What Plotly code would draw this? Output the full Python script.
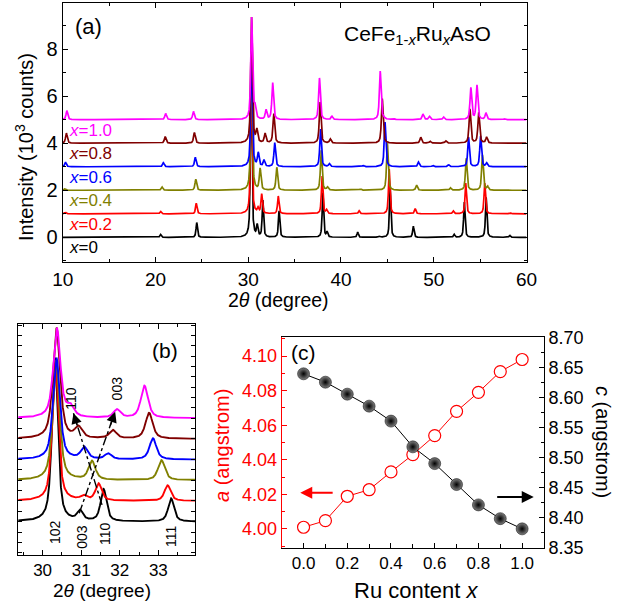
import numpy as np
import plotly.graph_objects as go

# ---------------- XRD patterns of CeFe1-xRuxAsO ----------------
compositions = ["0", "0.2", "0.4", "0.6", "0.8", "1.0"]
stack_offsets = [0, 1, 2, 3, 4, 5]          # vertical shift of each pattern (10^3 counts)
colors = ["#000000", "#ff0000", "#808000", "#0000ff", "#800000", "#ff00ff"]
peak_fwhm = [0.18, 0.19, 0.21, 0.21, 0.22, 0.22]   # degrees

# peak positions (2theta, deg) and heights (10^3 counts) for each composition
pos_x00 = [20.55, 24.45, 30.32, 30.97, 31.58, 33.33, 38.05, 38.5, 41.8, 44.15, 45.3, 47.8, 52.2, 53.3, 55.65, 58.2]
amp_x00 = [0.12, 0.63, 7.9, 0.47, 1.55, 1.12, 1.9, 0.22, 0.22, 0.04, 2.1, 0.47, 0.12, 1.5, 1.7, 0.08]

pos_x02 = [10.3, 20.55, 24.4, 30.33, 31.06, 31.45, 33.24, 37.97, 38.45, 41.95, 45.2, 48.0, 52.1, 53.45, 55.5, 58.2]
amp_x02 = [0.06, 0.1, 0.45, 6.6, 0.2, 0.82, 0.75, 1.6, 0.15, 0.13, 1.9, 0.22, 0.12, 1.3, 1.3, 0.05]

pos_x04 = [10.25, 20.7, 24.35, 30.35, 31.28, 33.08, 37.87, 38.55, 42.1, 45.0, 48.15, 51.8, 53.5, 55.25, 55.8]
amp_x04 = [0.06, 0.14, 0.47, 5.8, 0.9, 0.97, 1.7, 0.12, 0.05, 2.0, 0.22, 0.1, 1.35, 1.5, 0.15]

pos_x06 = [10.3, 20.85, 24.3, 30.36, 31.08, 31.7, 32.86, 37.8, 38.75, 42.4, 44.75, 48.36, 49.9, 51.6, 53.75, 55.05, 55.7]
amp_x06 = [0.2, 0.17, 0.4, 4.9, 0.56, 0.27, 1.02, 1.6, 0.12, 0.05, 1.9, 0.2, 0.06, 0.08, 1.25, 1.3, 0.15]

pos_x08 = [10.4, 21.05, 24.2, 30.36, 30.93, 31.82, 32.76, 37.75, 38.85, 44.45, 48.6, 49.6, 51.3, 53.9, 54.85, 55.7]
amp_x08 = [0.43, 0.28, 0.45, 5.35, 0.52, 0.4, 1.25, 1.75, 0.17, 1.9, 0.25, 0.08, 0.1, 1.45, 1.3, 0.25]

pos_x10 = [10.45, 21.1, 24.1, 30.37, 30.72, 31.93, 32.64, 37.68, 39.02, 44.23, 44.6, 45.6, 48.84, 49.55, 51.06, 54.0, 54.66, 55.63, 57.6]
amp_x10 = [0.38, 0.26, 0.35, 4.33, 0.48, 0.4, 1.56, 1.77, 0.14, 2.06, 0.05, 0.05, 0.24, 0.14, 0.11, 1.35, 1.45, 0.28, 0.04]

peak_positions = [pos_x00, pos_x02, pos_x04, pos_x06, pos_x08, pos_x10]
peak_heights = [amp_x00, amp_x02, amp_x04, amp_x06, amp_x08, amp_x10]

# ---------------- lattice parameters ----------------
ru_content = [0.0, 0.1, 0.2, 0.3, 0.4, 0.5, 0.6, 0.7, 0.8, 0.9, 1.0]
lattice_a = [4.001, 4.0048, 4.0189, 4.0227, 4.033, 4.043, 4.054, 4.068, 4.079, 4.091, 4.098]
lattice_c = [8.640, 8.626, 8.606, 8.586, 8.561, 8.518, 8.490, 8.455, 8.421, 8.398, 8.381]


def pattern(tth, pos, amp, fwhm):
    """Pseudo-Voigt profile sum for a list of reflections."""
    y = np.zeros_like(tth)
    for p, a in zip(pos, amp):
        d = (tth - p) / fwhm
        y += a * (0.65 / (1.0 + 4.0 * d * d) + 0.35 * np.exp(-4.0 * np.log(2.0) * d * d))
    return y


FONT = "Liberation Sans, Arial, sans-serif"
fig = go.Figure()

tth_full = np.arange(10.0, 60.0001, 0.01)
tth_zoom = np.arange(29.3, 34.2, 0.004)

for i in range(len(compositions)):
    y_full = pattern(tth_full, peak_positions[i], peak_heights[i], peak_fwhm[i]) + stack_offsets[i]
    y_zoom = pattern(tth_zoom, peak_positions[i], peak_heights[i], peak_fwhm[i]) + stack_offsets[i]
    fig.add_trace(go.Scatter(x=tth_full, y=y_full, mode="lines",
                             line=dict(color=colors[i], width=1.7),
                             xaxis="x", yaxis="y", hoverinfo="skip"))
    fig.add_trace(go.Scatter(x=tth_zoom, y=y_zoom, mode="lines",
                             line=dict(color=colors[i], width=1.9),
                             xaxis="x2", yaxis="y2", hoverinfo="skip"))
    fig.add_annotation(x=10.45, y=stack_offsets[i] - 0.45, xref="x", yref="y",
                       text="<i>x</i>=" + compositions[i], showarrow=False,
                       xanchor="left", yanchor="middle",
                       font=dict(family=FONT, size=17, color=colors[i]))

# peak-shift guides in panel (b)
shift_003 = ([30.95, 31.88], [0.41, 5.31])
shift_110 = ([31.54, 30.80], [0.81, 5.24])
for xs, ys in (shift_003, shift_110):
    fig.add_trace(go.Scatter(x=xs, y=ys, mode="lines",
                             line=dict(color="black", width=1.4, dash="dashdot"),
                             xaxis="x2", yaxis="y2", hoverinfo="skip"))
    fig.add_annotation(x=xs[1], y=ys[1], ax=xs[1] - 0.15 * (xs[1] - xs[0]),
                       ay=ys[1] - 0.15 * (ys[1] - ys[0]),
                       xref="x2", yref="y2", axref="x2", ayref="y2",
                       showarrow=True, arrowhead=2, arrowsize=1.5, arrowwidth=1.4,
                       arrowcolor="black", text="")

# lattice parameters in panel (c)
fig.add_trace(go.Scatter(x=ru_content, y=lattice_c, mode="lines+markers",
                         line=dict(color="black", width=1),
                         marker=dict(symbol="circle", size=12, color="#808080",
                                     gradient=dict(type="radial", color="black"),
                                     line=dict(width=0.5, color="black")),
                         xaxis="x3", yaxis="y4", hoverinfo="skip"))
fig.add_trace(go.Scatter(x=ru_content, y=lattice_a, mode="lines+markers",
                         line=dict(color="#ff0000", width=1),
                         marker=dict(symbol="circle", size=12, color="white",
                                     line=dict(width=1.2, color="#ff0000")),
                         xaxis="x3", yaxis="y3", hoverinfo="skip"))

fig.add_annotation(x=-0.015, y=4.021, ax=0.14, ay=4.021, xref="x3", yref="y3",
                   axref="x3", ayref="y3", showarrow=True, arrowhead=2,
                   arrowsize=1.2, arrowwidth=2, arrowcolor="#ff0000", text="")
fig.add_annotation(x=1.053, y=8.434, ax=0.879, ay=8.434, xref="x3", yref="y4",
                   axref="x3", ayref="y4", showarrow=True, arrowhead=2,
                   arrowsize=1.2, arrowwidth=2, arrowcolor="black", text="")

# ---------------- text ----------------
def label(x, y, text, size, xref="paper", yref="paper", angle=0, color="black"):
    fig.add_annotation(x=x, y=y, xref=xref, yref=yref, text=text, showarrow=False,
                       textangle=angle, xanchor="center", yanchor="middle",
                       font=dict(family=FONT, size=size, color=color))

label(12.73, 8.95, "(a)", 22, "x", "y")
label(48.2, 8.6, "CeFe<sub>1-<i>x</i></sub>Ru<sub><i>x</i></sub>AsO", 21, "x", "y")
label(33.18, 8.25, "(b)", 21, "x2", "y2")
label(0.0, 4.102, "(c)", 21, "x3", "y3")

for xx, yy, t in [(30.32, -0.5, "102"), (31.0, -0.72, "003"), (31.6, -0.58, "110"),
                  (33.31, -0.72, "111"), (30.73, 5.98, "110"), (31.94, 6.46, "003")]:
    label(xx, yy, t, 14, "x2", "y2", angle=-90)

label(24 / 627, 1 - 147 / 608, "Intensity (10<sup>3</sup> counts)", 20, angle=-90)
label(278 / 627, 1 - 300 / 608, "2<i>θ</i> (degree)", 19.5)
label(102 / 627, 1 - 590 / 608, "2<i>θ</i> (degree)", 19)
label(416 / 627, 1 - 590 / 608, "Ru content <i>x</i>", 22)
label(222 / 627, 1 - 446 / 608, "<i>a</i> (angstrom)", 20, angle=-90, color="#ff0000")
label(603 / 627, 1 - 442 / 608, "<i>c</i> (angstrom)", 20, angle=90)

# ---------------- axes ----------------
W, H = 627, 608


def dom_x(a, b):
    return [a / W, b / W]


def dom_y(top, bottom):
    return [1 - bottom / H, 1 - top / H]


base = dict(showline=True, linecolor="black", linewidth=1, ticks="inside",
            tickcolor="black", ticklen=5, showgrid=False, zeroline=False,
            automargin=False)

fig.update_layout(
    width=W, height=H,
    margin=dict(l=0, r=0, t=0, b=0, pad=0, autoexpand=False),
    paper_bgcolor="white", plot_bgcolor="white", showlegend=False,
    font=dict(family=FONT, color="black"),
    xaxis=dict(base, domain=dom_x(62.7, 526.5), anchor="y", range=[10, 60],
               dtick=10, tick0=0, mirror="ticks",
               minor=dict(ticks="inside", dtick=5, ticklen=3, tickcolor="black"),
               tickfont=dict(family=FONT, size=19, color="black")),
    yaxis=dict(base, domain=dom_y(2.7, 262.3), anchor="x", range=[-1.06, 9.97],
               dtick=2, tick0=0, mirror="ticks",
               minor=dict(ticks="inside", dtick=1, ticklen=3, tickcolor="black"),
               tickfont=dict(family=FONT, size=20, color="black")),
    xaxis2=dict(base, domain=dom_x(18.3, 195), anchor="y2", range=[29.37, 33.95],
                dtick=1, tick0=0, mirror="ticks",
                minor=dict(ticks="inside", dtick=0.5, ticklen=3, tickcolor="black"),
                tickfont=dict(family=FONT, size=17, color="black")),
    yaxis2=dict(base, domain=dom_y(324, 555), anchor="x2", range=[-1.61, 9.55],
                dtick=0.5, tick0=0, ticklen=4, mirror="ticks", showticklabels=False),
    xaxis3=dict(base, domain=dom_x(281.7, 544), anchor="y3", range=[-0.1, 1.1],
                dtick=0.2, tick0=0, mirror=True, tickformat=".1f",
                minor=dict(ticks="inside", dtick=0.1, ticklen=4, tickcolor="black"),
                tickfont=dict(family=FONT, size=17, color="black")),
    yaxis3=dict(base, domain=dom_y(337, 548), anchor="x3", range=[3.989, 4.111],
                dtick=0.02, tick0=0, tickformat=".2f", linecolor="#ff0000",
                tickcolor="#ff0000",
                minor=dict(ticks="inside", dtick=0.01, ticklen=3, tickcolor="#ff0000"),
                tickfont=dict(family=FONT, size=18, color="#ff0000")),
    yaxis4=dict(base, overlaying="y3", side="right", anchor="x3",
                range=[8.349, 8.7015], dtick=0.05, tick0=0, tickformat=".2f",
                minor=dict(ticks="inside", dtick=0.025, ticklen=3, tickcolor="black"),
                tickfont=dict(family=FONT, size=18, color="black")),
)

# the page body gets no default margin, so the figure fills the window exactly
fig.write_html("out.html", post_script="document.body.style.margin='0px';")
